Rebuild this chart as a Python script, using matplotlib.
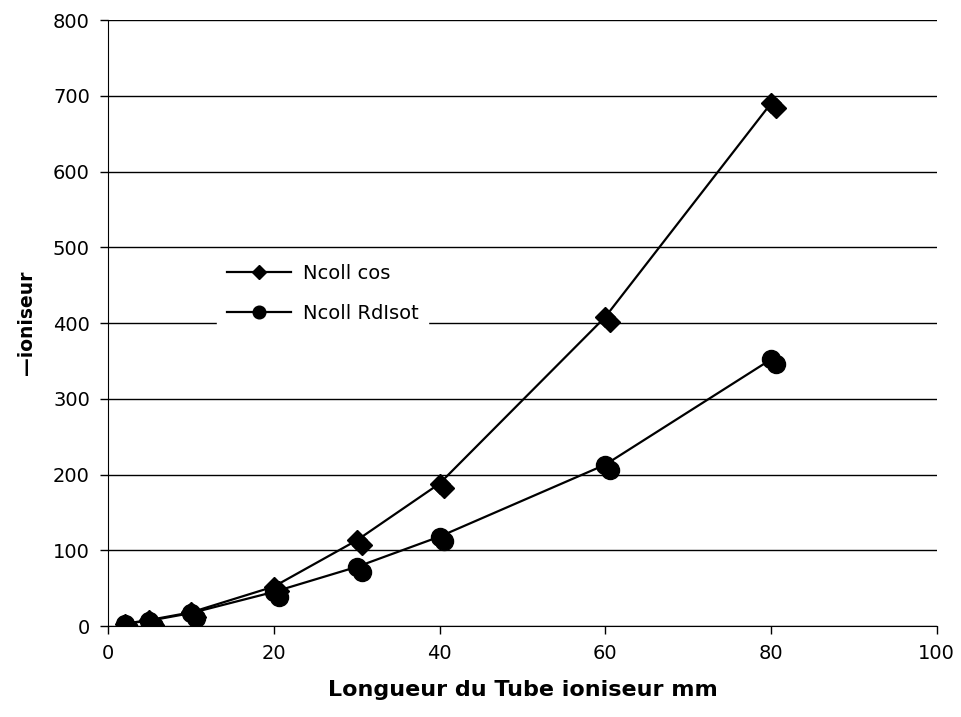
import numpy as np
import matplotlib.pyplot as plt
import matplotlib.transforms as mtransforms

# data
x_cos = [2, 5, 10, 20, 30, 40, 60, 80]
y_cos = [3, 8, 18, 52, 113, 188, 408, 690]
x_rd = [2, 5, 10, 20, 30, 40, 60, 80]
y_rd = [3, 7, 17, 45, 78, 118, 213, 352]

xticks = [0, 20, 40, 60, 80, 100]
yticks = [0, 100, 200, 300, 400, 500, 600, 700, 800]


def main():
    plt.rcParams['font.family'] = ['DejaVu Sans']
    fig = plt.figure(figsize=(9.62, 7.17), dpi=100)
    ax = fig.add_axes([0.1123, 0.1269, 0.8615, 0.8452])

    # smeared double markers, like the original export
    off = mtransforms.offset_copy(ax.transData, fig=fig, x=3.5, y=-3.5, units='points')

    ax.plot(x_cos, y_cos, '-', color='black', lw=1.6, marker='D', ms=10,
            label='Ncoll cos', zorder=3)
    ax.plot(x_cos, y_cos, 'D', color='black', ms=10, transform=off, zorder=3)
    ax.plot(x_rd, y_rd, '-', color='black', lw=1.6, marker='o', ms=13,
            label='Ncoll RdIsot', zorder=3)
    ax.plot(x_rd, y_rd, 'o', color='black', ms=13, transform=off, zorder=3)

    ax.set_xlim(0, 100)
    ax.set_ylim(0, 800)
    ax.set_xticks(xticks)
    ax.set_yticks(yticks)
    ax.tick_params(labelsize=14, direction='out', length=6, width=1, pad=7)
    ax.yaxis.grid(True, color='black', lw=1)
    ax.set_axisbelow(True)
    for s in ['top', 'right']:
        ax.spines[s].set_visible(False)

    ax.set_xlabel('Longueur du Tube ioniseur mm', fontsize=16, fontweight='bold', labelpad=12)
    ax.set_ylabel('\u2014ioniseur', fontsize=13.5, fontweight='bold', labelpad=12)

    leg = ax.legend(loc='upper left', bbox_to_anchor=(0.12, 0.63), fontsize=14,
                    frameon=True, facecolor='white', edgecolor='white', framealpha=1,
                    fancybox=False, handlelength=3.3, markerscale=0.7, borderpad=0.5,
                    labelspacing=1.1, handletextpad=0.6)
    leg.set_zorder(4)

    fig.savefig('out.png', dpi=100)


if __name__ == '__main__':
    main()
